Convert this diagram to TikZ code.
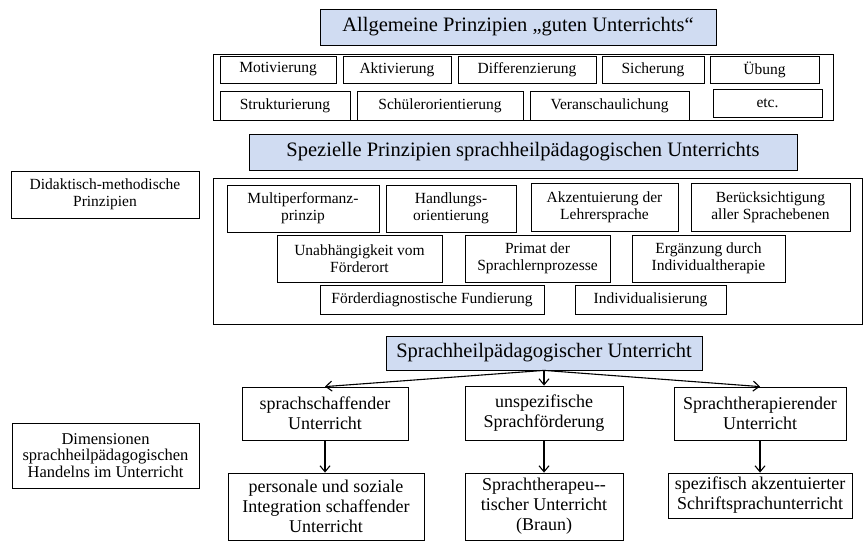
\documentclass[tikz,border=0pt]{standalone}
\usepackage{fontspec}
\setmainfont{Liberation Serif}
\usetikzlibrary{arrows.meta}
\definecolor{ttlblue}{HTML}{D0DCF2}
\tikzset{
  ttl/.style={draw, fill=ttlblue, inner sep=0pt, minimum height=36pt, font=\fontsize{20.5}{24}\selectfont},
  grp/.style={draw, line width=1pt, inner sep=0pt},
  prz/.style={draw, inner sep=0pt, align=center, font=\fontsize{15.5}{17}\selectfont},
  side/.style={draw, inner sep=0pt, align=center, font=\fontsize{15.5}{17}\selectfont},
  dim/.style={draw, inner sep=0pt, align=center, font=\fontsize{18}{20}\selectfont},
  arr/.style={-{Straight Barb[length=6pt,width=10pt]}, line width=1.1pt}}

\begin{document}
\begin{tikzpicture}[x=1pt, y=-1pt, line width=0.8pt]
\useasboundingbox (0,0) rectangle (866,548);
% allgemeine Prinzipien
\node[ttl, minimum width=396pt] (allg) at (518,27) {Allgemeine Prinzipien „guten Unterrichts“};
\node[grp, minimum width=620pt, minimum height=66pt] (allgbox) at (523,88) {};
\node[prz, minimum width=116pt, minimum height=27pt] (motiv) at (278,69.5) {Motivierung};
\node[prz, minimum width=108pt, minimum height=27pt] (aktiv) at (397,69.5) {Aktivierung};
\node[prz, minimum width=138pt, minimum height=27pt] (diff) at (527,69.5) {Differenzierung};
\node[prz, minimum width=102pt, minimum height=27pt] (sich) at (653,69.5) {Sicherung};
\node[prz, minimum width=109pt, minimum height=27pt] (uebung) at (764.5,69.5) {Übung};
\node[prz, minimum width=130pt, minimum height=29pt] (strukt) at (285,105.5) {Strukturierung};
\node[prz, minimum width=166pt, minimum height=29pt] (schuel) at (440,105.5) {Schülerorientierung};
\node[prz, minimum width=159pt, minimum height=29pt] (veran) at (609.5,105.5) {Veranschaulichung};
\node[prz, minimum width=109pt, minimum height=28pt] (etc) at (767.5,103) {etc.};
% spezielle Prinzipien
\node[ttl, minimum width=548pt] (spez) at (523,152) {Spezielle Prinzipien sprachheilpädagogischen Unterrichts};
\node[side, minimum width=188pt, minimum height=47pt] (didakt) at (105,194.5) {Didaktisch-methodische\\Prinzipien};
\node[grp, minimum width=649pt, minimum height=146pt] (spezbox) at (537.5,251) {};
\node[prz, minimum width=152pt, minimum height=47pt] (multi) at (303,208.5) {Multiperformanz-\\prinzip};
\node[prz, minimum width=130pt, minimum height=47pt] (handl) at (451,208.5) {Handlungs-\\orientierung};
\node[prz, minimum width=147pt, minimum height=48pt] (akzent) at (604.5,207) {Akzentuierung der\\Lehrersprache};
\node[prz, minimum width=159pt, minimum height=48pt] (beruecks) at (770.5,207) {Berücksichtigung\\aller Sprachebenen};
\node[prz, minimum width=165pt, minimum height=47pt] (unabh) at (359.5,258.5) {Unabhängigkeit vom\\Förderort};
\node[prz, minimum width=145pt, minimum height=47pt] (primat) at (537.5,258.5) {Primat der\\Sprachlernprozesse};
\node[prz, minimum width=153pt, minimum height=47pt] (ergaenz) at (708.5,258.5) {Ergänzung durch\\Individualtherapie};
\node[prz, minimum width=224pt, minimum height=29pt] (foerder) at (432,299.5) {Förderdiagnostische Fundierung};
\node[prz, minimum width=151pt, minimum height=29pt] (indiv) at (650.5,299.5) {Individualisierung};
% Dimensionen
\node[ttl, minimum width=316pt, minimum height=34pt] (sprheil) at (544,353) {Sprachheilpädagogischer Unterricht};
\node[side, minimum width=187pt, minimum height=65pt, font=\fontsize{16.5}{16.7}\selectfont] (dimens) at (105.5,455.5) {Dimensionen\\sprachheilpädagogischen\\Handelns im Unterricht};
\node[dim, minimum width=166pt, minimum height=53pt] (schaff) at (325,413.5) {sprachschaffender\\Unterricht};
\node[dim, minimum width=158pt, minimum height=54pt] (unspez) at (544,413) {unspezifische\\Sprachförderung};
\node[dim, minimum width=172pt, minimum height=53pt] (therap) at (760,413.5) {Sprachtherapierender\\Unterricht};
\node[dim, minimum width=196pt, minimum height=67pt] (person) at (326,506.5) {personale und soziale\\Integration schaffender\\Unterricht};
\node[dim, minimum width=158pt, minimum height=67pt] (braun) at (544,506.5) {Sprachtherapeu-{}-\\tischer Unterricht\\(Braun)};
\node[dim, minimum width=184pt, minimum height=45pt] (schrift) at (760,495.5) {spezifisch akzentuierter\\Schriftsprachunterricht};
\draw[arr] (sprheil.south) -- (schaff.north);
\draw[arr] (sprheil.south) -- (unspez.north);
\draw[arr] (sprheil.south) -- (therap.north);
\draw[arr] (schaff.south) -- (person.north -| schaff.south);
\draw[arr] (unspez.south) -- (braun.north);
\draw[arr] (therap.south) -- (schrift.north -| therap.south);
\end{tikzpicture}
\end{document}
